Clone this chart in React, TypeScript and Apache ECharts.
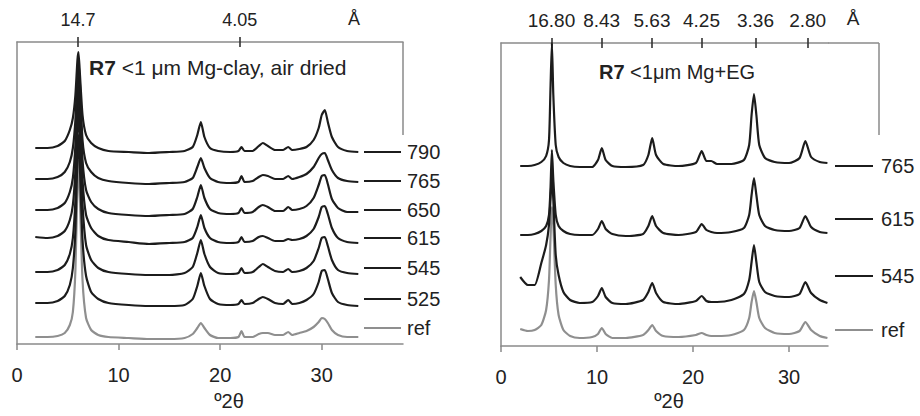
import React, { useEffect, useRef } from "react";
import * as echarts from "echarts";

// ---------- Left panel: R7 <1 µm Mg-clay, air dried ----------
const LX = [1.8, 3.0, 4.0, 4.7, 5.2, 5.5, 5.75, 5.95, 6.05, 6.2, 6.45, 6.8, 7.3, 8.0, 9.0, 11.0, 13.0, 15.0, 16.5, 17.3, 17.75, 18.1, 18.45, 19.0, 19.8, 21.0, 21.8, 22.1, 22.4, 23.2, 23.8, 24.2, 24.7, 25.4, 26.2, 26.7, 27.1, 27.8, 28.5, 29.2, 29.7, 30.0, 30.3, 30.6, 31.0, 31.6, 32.5, 33.6];
const L790 = [196, 196, 198, 203, 214, 226, 249, 284, 292, 269, 229, 209, 201, 196, 193, 192, 191, 192, 193, 197, 209, 222, 207, 196, 193, 192, 193, 197, 193, 193, 198, 201, 198, 194, 194, 197, 194, 195, 197, 204, 216, 229, 234, 222, 207, 197, 193, 192];
const L765 = [165, 165, 167, 172, 182, 196, 224, 269, 284, 259, 204, 181, 172, 166, 163, 161, 160, 161, 162, 166, 177, 186, 176, 166, 162, 161, 162, 168, 162, 163, 167, 169, 168, 165, 165, 168, 165, 167, 170, 177, 186, 190, 191, 184, 174, 166, 163, 162];
const L650 = [134, 134, 136, 141, 152, 166, 199, 254, 272, 244, 184, 154, 142, 135, 131, 129, 128, 129, 130, 135, 147, 159, 146, 135, 131, 130, 131, 136, 131, 132, 137, 139, 137, 133, 133, 137, 134, 135, 138, 146, 159, 168, 169, 160, 145, 136, 132, 132];
const L615 = [107, 106, 108, 113, 124, 139, 174, 234, 256, 229, 164, 129, 116, 108, 104, 102, 100, 101, 102, 106, 117, 129, 116, 106, 102, 101, 102, 107, 102, 103, 107, 108, 106, 103, 103, 105, 104, 105, 108, 115, 127, 137, 138, 130, 116, 106, 102, 101];
const L545 = [72, 72, 74, 79, 90, 106, 144, 214, 236, 204, 139, 99, 84, 76, 72, 70, 69, 69, 71, 77, 91, 104, 90, 77, 71, 70, 71, 76, 71, 72, 77, 80, 77, 73, 72, 75, 72, 73, 76, 83, 96, 106, 107, 98, 84, 74, 71, 70];
const L525 = [41, 41, 43, 48, 59, 76, 114, 189, 209, 174, 104, 68, 52, 45, 41, 39, 38, 38, 39, 45, 58, 71, 58, 45, 40, 39, 40, 44, 40, 41, 45, 47, 45, 41, 40, 44, 40, 41, 44, 50, 62, 73, 74, 65, 51, 42, 39, 38];
const LREF = [7, 7, 8, 11, 19, 32, 74, 159, 184, 144, 64, 26, 14, 9, 7, 6, 5, 5, 6, 10, 16, 21, 16, 9, 6, 6, 7, 13, 7, 7, 10, 11, 11, 9, 9, 12, 9, 11, 13, 17, 22, 26, 25, 21, 14, 9, 7, 7];
const L_NAMES = ["790", "765", "650", "615", "545", "525", "ref"];
const L_D = ["14.7", "4.05"];
const L_TICKS = [0, 10, 20, 30];

// ---------- Right panel: R7 <1µm Mg+EG ----------
const RX = [2.0, 2.8, 3.5, 4.2, 4.7, 5.0, 5.15, 5.3, 5.45, 5.7, 6.0, 6.5, 7.2, 8.2, 9.5, 10.1, 10.5, 10.9, 11.6, 13.0, 14.8, 15.35, 15.75, 16.15, 16.9, 18.5, 20.3, 20.9, 21.4, 21.9, 22.5, 24.0, 25.3, 25.85, 26.1, 26.35, 26.6, 26.9, 27.5, 28.5, 30.0, 31.1, 31.7, 32.3, 33.2, 34.0];
const R765 = [180, 180, 181, 184, 190, 206, 256, 303, 251, 201, 189, 183, 180, 179, 179, 186, 198, 186, 180, 179, 181, 191, 208, 191, 182, 180, 183, 195, 185, 185, 182, 182, 186, 201, 231, 252, 231, 201, 188, 184, 183, 188, 205, 189, 184, 183];
const R615 = [111, 111, 112, 115, 120, 131, 156, 196, 166, 131, 120, 115, 112, 111, 111, 117, 125, 117, 112, 110, 112, 120, 130, 120, 113, 111, 114, 122, 116, 114, 113, 114, 118, 131, 151, 168, 151, 131, 120, 116, 115, 118, 130, 119, 114, 113];
const R545 = [69, 61, 61, 83, 101, 121, 146, 171, 146, 91, 71, 54, 46, 43, 44, 50, 58, 49, 43, 42, 46, 54, 63, 53, 44, 42, 45, 50, 45, 44, 44, 46, 52, 66, 84, 101, 84, 64, 54, 50, 49, 52, 64, 53, 46, 43];
const RREF = [17, 15, 16, 21, 36, 66, 106, 139, 121, 61, 31, 16, 10, 8, 9, 12, 18, 12, 8, 8, 11, 16, 21, 15, 10, 9, 11, 13, 11, 10, 10, 11, 16, 28, 44, 55, 44, 28, 18, 13, 12, 15, 24, 16, 10, 8];
const R_NAMES = ["765", "615", "545", "ref"];
const R_D = ["16.80", "8.43", "5.63", "4.25", "3.36", "2.80"];
const R_TICKS = [0, 10, 20, 30];

const FONT = "'Liberation Sans', Arial, sans-serif";
const TXT = "#222";
const FRAME = "#8a8a8a";
const BLACK = "#1c1c1c";
const GREY = "#8f8f8f";
const LAMBDA = 1.5406;

const twoTheta = (d: number) => (2 * Math.asin(LAMBDA / (2 * d)) * 180) / Math.PI;

const zip = (xs: number[], ys: number[]) => xs.map((x, i) => [x, ys[i]]);

export default function App() {
  const ref = useRef<HTMLDivElement>(null);
  useEffect(() => {
    document.body.style.margin = "0";
    if (!ref.current) return;
    const chart = echarts.init(ref.current, null, { renderer: "svg" });

    const lPos = L_D.map((d) => twoTheta(parseFloat(d)));
    const rPos = R_D.map((d) => twoTheta(parseFloat(d)));
    const fmt = (labels: string[], pos: number[]) => (v: number) => {
      let best = 0;
      pos.forEach((p, i) => {
        if (Math.abs(p - v) < Math.abs(pos[best] - v)) best = i;
      });
      return labels[best];
    };

    const bottomAxis = (gridIndex: number, max: number, ticks: number[]) => ({
      type: "value",
      gridIndex,
      position: "bottom",
      min: 0,
      max,
      axisLine: { show: true, lineStyle: { color: FRAME, width: 1.5 } },
      axisTick: { show: true, length: 6, customValues: ticks, lineStyle: { color: FRAME, width: 1.5 } },
      axisLabel: { show: true, customValues: ticks, fontSize: 20, color: TXT, fontFamily: FONT, margin: 21 },
      splitLine: { show: false },
    });
    const topIn = (gridIndex: number, max: number, pos: number[]) => ({
      type: "value",
      gridIndex,
      position: "top",
      min: 0,
      max,
      axisLine: { show: true, lineStyle: { color: FRAME, width: 1.5 } },
      axisTick: { show: true, inside: true, length: 5, customValues: pos, lineStyle: { color: "#333", width: 1.6 } },
      axisLabel: { show: false },
      splitLine: { show: false },
    });
    const topOut = (gridIndex: number, max: number, pos: number[], labels: string[], fs: number) => ({
      type: "value",
      gridIndex,
      position: "top",
      min: 0,
      max,
      axisLine: { show: false },
      axisTick: { show: true, inside: false, length: 5, customValues: pos, lineStyle: { color: "#333", width: 1.6 } },
      axisLabel: { show: true, customValues: pos, formatter: fmt(labels, pos), fontSize: fs, color: TXT, fontFamily: FONT, margin: 13 },
      splitLine: { show: false },
    });
    const yAx = (gridIndex: number, max: number) => ({
      type: "value",
      gridIndex,
      min: 0,
      max,
      axisLine: { show: true, lineStyle: { color: FRAME, width: 1.5 } },
      axisTick: { show: false },
      axisLabel: { show: false },
      splitLine: { show: false },
    });

    const lSeries = [L790, L765, L650, L615, L545, L525, LREF].map((vals, i) => ({
      type: "line",
      name: "L" + L_NAMES[i],
      xAxisIndex: 0,
      yAxisIndex: 0,
      data: zip(LX, vals),
      showSymbol: false,
      smooth: 0.2,
      lineStyle: { color: L_NAMES[i] === "ref" ? GREY : BLACK, width: 2.2 },
      z: 10 - i,
    }));
    const rSeries = [R765, R615, R545, RREF].map((vals, i) => ({
      type: "line",
      name: "R" + R_NAMES[i],
      xAxisIndex: 3,
      yAxisIndex: 1,
      data: zip(RX, vals),
      showSymbol: false,
      smooth: 0.2,
      lineStyle: { color: R_NAMES[i] === "ref" ? GREY : BLACK, width: 2.2 },
      z: 10 - i,
    }));

    const lLegendY = [152, 181, 210, 238, 268, 299, 328];
    const rLegendY = [166, 219, 276, 330];
    const legendItems: any[] = [];
    L_NAMES.forEach((n, i) => {
      const c = n === "ref" ? GREY : BLACK;
      legendItems.push({ type: "line", shape: { x1: 364, y1: lLegendY[i], x2: 401, y2: lLegendY[i] }, style: { stroke: c, lineWidth: 2.2 } });
      legendItems.push({ type: "text", x: 407, y: lLegendY[i], style: { text: n, fontSize: 20, fontFamily: FONT, fill: TXT, textVerticalAlign: "middle", textAlign: "left" } });
    });
    R_NAMES.forEach((n, i) => {
      const c = n === "ref" ? GREY : BLACK;
      legendItems.push({ type: "line", shape: { x1: 835, y1: rLegendY[i], x2: 873, y2: rLegendY[i] }, style: { stroke: c, lineWidth: 2.2 } });
      legendItems.push({ type: "text", x: 881, y: rLegendY[i], style: { text: n, fontSize: 20, fontFamily: FONT, fill: TXT, textVerticalAlign: "middle", textAlign: "left" } });
    });

    chart.setOption({
      animation: false,
      backgroundColor: "#fff",
      grid: [
        { left: 17, top: 42, width: 386, height: 302 },
        { left: 501, top: 43, width: 327, height: 303 },
      ],
      xAxis: [
        bottomAxis(0, 38, L_TICKS),
        topIn(0, 38, lPos),
        topOut(0, 38, lPos, L_D, 18),
        bottomAxis(1, 34.06, R_TICKS),
        topIn(1, 34.06, rPos),
        topOut(1, 34.06, rPos, R_D, 19),
      ],
      yAxis: [yAx(0, 302), yAx(1, 303)],
      series: [...lSeries, ...rSeries],
      graphic: [
        // partial right borders and extended top frame
        { type: "line", shape: { x1: 403, y1: 42, x2: 403, y2: 135 }, style: { stroke: FRAME, lineWidth: 1.5 } },
        { type: "line", shape: { x1: 828, y1: 43, x2: 879, y2: 43 }, style: { stroke: FRAME, lineWidth: 1.5 } },
        { type: "line", shape: { x1: 879, y1: 43, x2: 879, y2: 135 }, style: { stroke: FRAME, lineWidth: 1.5 } },
        // Å units
        { type: "text", x: 354, y: 19, style: { text: "Å", fontSize: 18, fontFamily: FONT, fill: TXT, textAlign: "center", textVerticalAlign: "middle" } },
        { type: "text", x: 853, y: 18, style: { text: "Å", fontSize: 19, fontFamily: FONT, fill: TXT, textAlign: "center", textVerticalAlign: "middle" } },
        // titles
        {
          type: "text",
          x: 89,
          y: 67,
          style: {
            text: "{b|R7} <1 μm Mg-clay, air dried",
            fontSize: 21,
            fontFamily: FONT,
            fill: TXT,
            textVerticalAlign: "middle",
            rich: { b: { fontWeight: "bold", fontSize: 21, fontFamily: FONT, fill: TXT } },
          },
        },
        {
          type: "text",
          x: 599,
          y: 72,
          style: {
            text: "{b|R7} <1μm Mg+EG",
            fontSize: 20,
            fontFamily: FONT,
            fill: TXT,
            textVerticalAlign: "middle",
            rich: { b: { fontWeight: "bold", fontSize: 20, fontFamily: FONT, fill: TXT } },
          },
        },
        // x axis names
        { type: "text", x: 229, y: 401, style: { text: "º2θ", fontSize: 20, fontFamily: FONT, fill: TXT, textAlign: "center", textVerticalAlign: "middle" } },
        { type: "text", x: 669, y: 401, style: { text: "º2θ", fontSize: 20, fontFamily: FONT, fill: TXT, textAlign: "center", textVerticalAlign: "middle" } },
        ...legendItems,
      ],
    });
    return () => chart.dispose();
  }, []);
  return <div ref={ref} style={{ width: 920, height: 416 }} />;
}
